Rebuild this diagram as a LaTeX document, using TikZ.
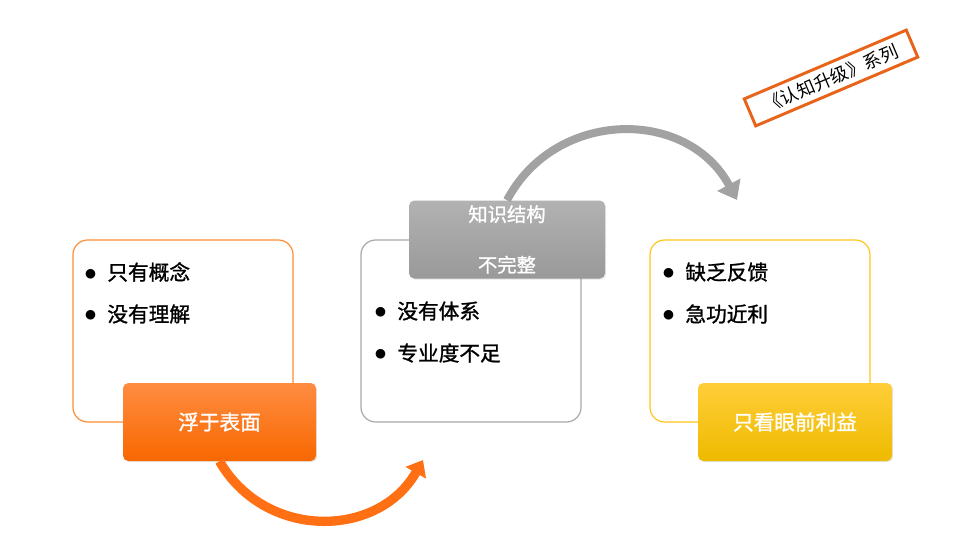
\documentclass[tikz,border=0pt]{standalone}
\usepackage{fontspec}
\setmainfont{Noto Sans CJK SC}
\newfontfamily\cjkmed{Noto Sans CJK SC}[FakeBold=1.2]
\usepackage{xcolor}
\usetikzlibrary{arrows.meta, shadows, positioning}
\definecolor{BoxOrange}{HTML}{FF8C33}
\definecolor{BoxGray}{HTML}{A8A8A8}
\definecolor{BoxYellow}{HTML}{FFC61A}
\definecolor{ArcOrange}{HTML}{FF7014}
\definecolor{ArcGray}{HTML}{A2A2A2}
\definecolor{StampOrange}{HTML}{E8641A}
\definecolor{OrTop}{HTML}{FF8C42}
\definecolor{OrMid}{HTML}{FF7300}
\definecolor{OrBot}{HTML}{F86800}
\definecolor{YeTop}{HTML}{FFCE38}
\definecolor{YeMid}{HTML}{FFC800}
\definecolor{YeBot}{HTML}{EEBA00}
\definecolor{GrTop}{HTML}{B2B2B2}
\definecolor{GrMid}{HTML}{A6A6A6}
\definecolor{GrBot}{HTML}{999999}
\tikzset{
  >=latex,  % frecce
  % riquadri con elenco
  box/.style={draw,fill=white,rounded corners=11pt,line width=0.9pt,minimum width=165pt,minimum height=136.5pt,inner sep=0},
  box orange/.style={box,draw=BoxOrange},
  box gray/.style={box,draw=BoxGray},
  box yellow/.style={box,draw=BoxYellow},
  % etichette piene
  badge/.style={rounded corners=4pt,minimum height=58.5pt,inner sep=0,text=white,
    font=\cjkmed\fontsize{15.5}{18}\selectfont,
    drop shadow={opacity=0.2,shadow xshift=0.8pt,shadow yshift=-0.8pt}},
  badge orange/.style={badge,minimum width=144.75pt,top color=OrTop,middle color=OrMid,bottom color=OrBot},
  badge gray/.style={badge,minimum width=147pt,top color=GrTop,middle color=GrMid,bottom color=GrBot},
  badge yellow/.style={badge,minimum width=145.5pt,top color=YeTop,middle color=YeMid,bottom color=YeBot},
  % voci
  item/.style={anchor=west,inner sep=0,font=\cjkmed\fontsize{15.5}{18}\selectfont},
  % archi
  bend orange/.style={-{Triangle[length=11pt,width=17pt]},line width=7pt,ArcOrange},
  bend gray/.style={-{Triangle[length=13pt,width=19pt]},line width=6pt,ArcGray}
}
\newcommand{\itm}[1]{\scalebox{1.3}{$\bullet$}\hspace{8pt}#1}

\begin{document}
\begin{tikzpicture}[x=0.75pt,y=-0.75pt]
    \useasboundingbox[fill=white] (0,0) rectangle (977,553);
    % riquadri
    \node[box orange] (box1) at (183,331) {};
    \node[box gray] (box2) at (471,331) {};
    \node[box yellow] (box3) at (760,331) {};
    % voci
    \node[item] (b11) at (84,272) {\itm{只有概念}};
    \node[item] (b12) at (84,314) {\itm{没有理解}};
    \node[item] (b21) at (374,311) {\itm{没有体系}};
    \node[item] (b22) at (374,353) {\itm{专业度不足}};
    \node[item] (b31) at (662,272) {\itm{缺乏反馈}};
    \node[item] (b32) at (662,314) {\itm{急功近利}};
    % etichette
    \node[badge orange] (lab1) at (219.5,422) {浮于表面};
    \node[badge gray,align=center,font=\cjkmed\fontsize{14.5}{18}\selectfont] (lab2) at (507,239.5) {知识结构\\[20pt]不完整};
    \node[badge yellow] (lab3) at (795,422) {只看眼前利益};
    % archi
    \coordinate (tip1) at (423,460);
    \coordinate (tip2) at (737,200);
    \draw[bend orange] (lab1.south) .. controls (265,540) and (378,539) .. (tip1);
    \draw[bend gray] (lab2.north) .. controls (555,109) and (687,107) .. (tip2);
    % timbro
    \node[draw=StampOrange,line width=2.2pt,fill=white,rotate=23,minimum width=132pt,minimum height=22pt,
      inner sep=0,font=\fontsize{13.5}{16}\selectfont,
      drop shadow={opacity=0.2,shadow xshift=0.8pt,shadow yshift=-0.8pt}] (stamp) at (831,78) {《认知升级》系列};
  \end{tikzpicture}
\end{document}
